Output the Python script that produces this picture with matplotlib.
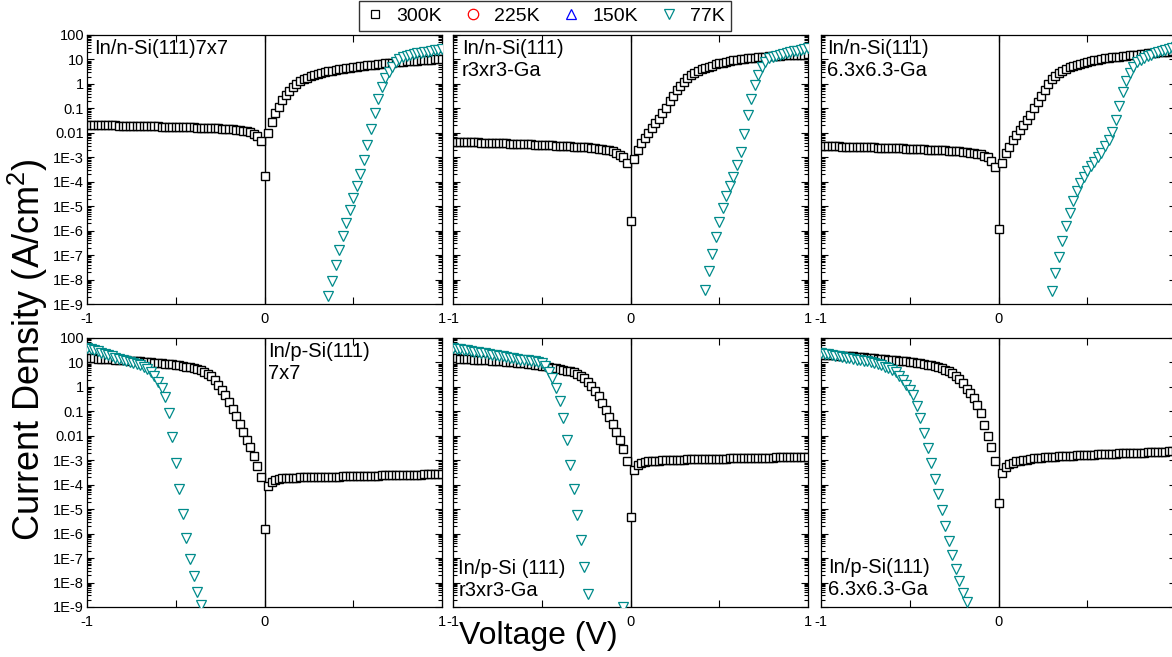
import numpy as np
import matplotlib
matplotlib.use("Agg")
import matplotlib.pyplot as plt
from matplotlib.lines import Line2D
from matplotlib.ticker import FixedLocator, FixedFormatter, LogLocator, NullFormatter

plt.rcParams["font.family"] = ["Liberation Sans", "DejaVu Sans"]
plt.rcParams["mathtext.fontset"] = "custom"
plt.rcParams["mathtext.rm"] = "Liberation Sans"
plt.rcParams["axes.unicode_minus"] = False

# bias sweep, -1 V to +1 V in 20 mV steps
volts = np.round(np.linspace(-1.0, 1.0, 101), 2)

# log10 of current density (A/cm^2), 300K, one value per sweep point
n_7x7_300 = [
    -1.68, -1.68, -1.68, -1.69, -1.69, -1.69, -1.70, -1.70, -1.70, -1.71,
    -1.71, -1.71, -1.72, -1.72, -1.72, -1.73, -1.73, -1.73, -1.74, -1.74,
    -1.74, -1.75, -1.75, -1.75, -1.76, -1.76, -1.76, -1.77, -1.77, -1.78,
    -1.78, -1.79, -1.79, -1.80, -1.80, -1.81, -1.82, -1.82, -1.83, -1.84,
    -1.85, -1.86, -1.87, -1.89, -1.91, -1.93, -1.97, -2.03, -2.15, -2.33,
    -3.76,
    -2.01, -1.55, -1.21, -0.93, -0.67, -0.45, -0.27, -0.11, 0.01, 0.12,
    0.19, 0.25, 0.31, 0.36, 0.41, 0.44, 0.48, 0.51, 0.54, 0.57,
    0.59, 0.62, 0.64, 0.66, 0.69, 0.70, 0.72, 0.74, 0.76, 0.78,
    0.79, 0.81, 0.82, 0.84, 0.86, 0.87, 0.88, 0.89, 0.91, 0.92,
    0.93, 0.94, 0.95, 0.96, 0.97, 0.98, 0.99, 1.00, 1.00, 1.01,
]
n_r3_300 = [
    -2.36, -2.36, -2.37, -2.37, -2.38, -2.38, -2.39, -2.39, -2.40, -2.40,
    -2.41, -2.41, -2.42, -2.42, -2.43, -2.43, -2.44, -2.44, -2.45, -2.45,
    -2.46, -2.46, -2.47, -2.48, -2.48, -2.49, -2.50, -2.50, -2.51, -2.52,
    -2.53, -2.54, -2.54, -2.55, -2.56, -2.57, -2.58, -2.59, -2.60, -2.62,
    -2.63, -2.65, -2.67, -2.69, -2.72, -2.76, -2.81, -2.90, -3.00, -3.24,
    -5.62,
    -3.08, -2.70, -2.42, -2.22, -2.02, -1.81, -1.61, -1.43, -1.20, -0.97,
    -0.70, -0.48, -0.25, -0.08, 0.09, 0.23, 0.37, 0.46, 0.54, 0.61,
    0.66, 0.71, 0.75, 0.80, 0.84, 0.87, 0.90, 0.93, 0.96, 0.98,
    1.00, 1.02, 1.04, 1.06, 1.07, 1.09, 1.10, 1.11, 1.13, 1.14,
    1.15, 1.16, 1.17, 1.17, 1.18, 1.19, 1.19, 1.20, 1.20, 1.21,
]
n_63_300 = [
    -2.53, -2.53, -2.54, -2.54, -2.55, -2.55, -2.56, -2.56, -2.57, -2.57,
    -2.58, -2.58, -2.59, -2.59, -2.60, -2.60, -2.61, -2.61, -2.62, -2.62,
    -2.63, -2.63, -2.64, -2.64, -2.65, -2.65, -2.66, -2.67, -2.67, -2.68,
    -2.69, -2.69, -2.70, -2.71, -2.72, -2.72, -2.73, -2.74, -2.75, -2.76,
    -2.78, -2.79, -2.81, -2.83, -2.85, -2.88, -2.93, -3.00, -3.15, -3.38,
    -5.95,
    -3.25, -2.84, -2.57, -2.29, -2.09, -1.89, -1.68, -1.48, -1.27, -1.00,
    -0.73, -0.49, -0.25, 0.00, 0.19, 0.32, 0.43, 0.54, 0.62, 0.70,
    0.75, 0.79, 0.83, 0.87, 0.90, 0.93, 0.96, 0.99, 1.01, 1.04,
    1.06, 1.08, 1.10, 1.12, 1.14, 1.16, 1.17, 1.19, 1.20, 1.22,
    1.23, 1.25, 1.26, 1.27, 1.29, 1.30, 1.31, 1.32, 1.34, 1.35,
]
p_7x7_300 = [
    1.18, 1.17, 1.17, 1.16, 1.15, 1.14, 1.14, 1.13, 1.12, 1.11,
    1.09, 1.08, 1.07, 1.07, 1.06, 1.04, 1.03, 1.02, 1.01, 0.99,
    0.98, 0.97, 0.95, 0.94, 0.92, 0.90, 0.88, 0.86, 0.83, 0.80,
    0.77, 0.74, 0.68, 0.62, 0.54, 0.43, 0.27, 0.09, -0.12, -0.35,
    -0.60, -0.90, -1.18, -1.51, -1.83, -2.17, -2.47, -2.82, -3.22, -3.70,
    -5.83,
    -4.05, -3.87, -3.81, -3.76, -3.74, -3.73, -3.72, -3.71, -3.71, -3.70,
    -3.70, -3.70, -3.69, -3.69, -3.69, -3.68, -3.68, -3.68, -3.67, -3.67,
    -3.67, -3.66, -3.66, -3.66, -3.65, -3.65, -3.65, -3.64, -3.64, -3.63,
    -3.63, -3.63, -3.62, -3.62, -3.62, -3.61, -3.61, -3.61, -3.60, -3.60,
    -3.60, -3.59, -3.59, -3.59, -3.58, -3.58, -3.57, -3.57, -3.56, -3.56,
]
p_r3_300 = [
    1.18, 1.17, 1.16, 1.15, 1.14, 1.13, 1.12, 1.11, 1.10, 1.09,
    1.08, 1.07, 1.06, 1.06, 1.05, 1.03, 1.02, 1.00, 0.99, 0.97,
    0.96, 0.94, 0.93, 0.91, 0.90, 0.86, 0.84, 0.82, 0.79, 0.76,
    0.72, 0.70, 0.67, 0.64, 0.60, 0.53, 0.46, 0.36, 0.22, 0.05,
    -0.16, -0.36, -0.64, -0.94, -1.24, -1.51, -1.83, -2.17, -2.55, -3.05,
    -5.31,
    -3.40, -3.19, -3.12, -3.08, -3.05, -3.04, -3.02, -3.01, -3.00, -2.99,
    -2.99, -2.98, -2.98, -2.97, -2.97, -2.96, -2.96, -2.96, -2.95, -2.95,
    -2.95, -2.94, -2.94, -2.94, -2.93, -2.93, -2.93, -2.92, -2.92, -2.92,
    -2.91, -2.91, -2.91, -2.90, -2.90, -2.90, -2.89, -2.89, -2.89, -2.89,
    -2.88, -2.88, -2.88, -2.88, -2.87, -2.87, -2.87, -2.86, -2.86, -2.86,
]
p_63_300 = [
    1.32, 1.32, 1.31, 1.30, 1.30, 1.28, 1.28, 1.27, 1.26, 1.25,
    1.23, 1.22, 1.21, 1.20, 1.18, 1.17, 1.16, 1.14, 1.13, 1.11,
    1.10, 1.08, 1.07, 1.05, 1.04, 1.02, 1.00, 0.98, 0.96, 0.93,
    0.90, 0.88, 0.85, 0.81, 0.76, 0.70, 0.64, 0.56, 0.46, 0.33,
    0.16, -0.08, -0.25, -0.46, -0.73, -1.05, -1.55, -2.00, -2.47, -3.03,
    -4.73,
    -3.51, -3.26, -3.15, -3.10, -3.05, -3.02, -2.99, -2.97, -2.94, -2.92,
    -2.91, -2.89, -2.88, -2.87, -2.86, -2.85, -2.84, -2.83, -2.83, -2.82,
    -2.81, -2.80, -2.80, -2.79, -2.78, -2.78, -2.77, -2.76, -2.75, -2.74,
    -2.74, -2.73, -2.73, -2.72, -2.72, -2.71, -2.71, -2.70, -2.70, -2.69,
    -2.69, -2.68, -2.68, -2.67, -2.66, -2.66, -2.65, -2.64, -2.64, -2.63,
]

# 77K: only the part of the sweep above 1E-9 A/cm^2, starting at *_v0
n_7x7_77_v0 = 0.36
n_7x7_77 = [
    -8.69, -8.05, -7.39, -6.81, -6.20, -5.67, -5.15, -4.67, -4.18, -3.69,
    -3.12, -2.49, -1.84, -1.19, -0.61, -0.12, 0.23, 0.50, 0.71, 0.88,
    1.00, 1.09, 1.14, 1.18, 1.22, 1.25, 1.28, 1.30, 1.32, 1.34,
    1.37, 1.40, 1.44,
]
n_r3_77_v0 = 0.42
n_r3_77 = [
    -8.44, -7.67, -6.96, -6.28, -5.65, -5.08, -4.60, -4.19, -3.79, -3.31,
    -2.79, -2.06, -1.29, -0.61, -0.04, 0.37, 0.71, 0.91, 1.05, 1.10,
    1.14, 1.18, 1.22, 1.26, 1.30, 1.33, 1.36, 1.39, 1.42, 1.46,
]
n_63_77_v0 = 0.30
n_63_77 = [
    -8.46, -7.75, -7.07, -6.41, -5.81, -5.27, -4.78, -4.37, -4.04, -3.80,
    -3.55, -3.36, -3.18, -3.00, -2.81, -2.54, -2.29, -1.95, -1.48, -0.90,
    -0.33, 0.13, 0.46, 0.70, 0.88, 0.98, 1.06, 1.13, 1.19, 1.25,
    1.30, 1.35, 1.40, 1.44, 1.48, 1.52,
]
p_7x7_77_v0 = -1.00
p_7x7_77 = [
    1.60, 1.55, 1.50, 1.45, 1.40, 1.35, 1.30, 1.25, 1.20, 1.15,
    1.10, 1.06, 1.02, 0.98, 0.94, 0.89, 0.82, 0.73, 0.59, 0.43,
    0.22, -0.05, -0.43, -1.07, -2.03, -3.10, -4.19, -5.21, -6.17, -7.02,
    -7.73, -8.38, -8.93,
]
p_r3_77_v0 = -1.00
p_r3_77 = [
    1.58, 1.56, 1.53, 1.51, 1.49, 1.47, 1.44, 1.42, 1.40, 1.37,
    1.35, 1.32, 1.30, 1.27, 1.25, 1.22, 1.20, 1.17, 1.15, 1.12,
    1.10, 1.08, 1.06, 1.04, 1.01, 0.98, 0.84, 0.63, 0.36, -0.05,
    -0.57, -1.28, -2.17, -3.19, -4.19, -5.24, -6.27, -7.36, -8.45,
    np.nan, np.nan, np.nan, np.nan, np.nan, np.nan, np.nan, np.nan, np.nan,
    -9.00,
]
p_63_77_v0 = -1.00
p_63_77 = [
    1.39, 1.36, 1.34, 1.31, 1.28, 1.25, 1.22, 1.20, 1.17, 1.14,
    1.11, 1.08, 1.06, 1.04, 1.01, 0.98, 0.93, 0.88, 0.82, 0.76,
    0.70, 0.59, 0.46, 0.29, 0.09, -0.12, -0.32, -0.77, -1.28, -1.89,
    -2.51, -3.12, -3.77, -4.39, -5.04, -5.69, -6.29, -6.88, -7.43, -7.93,
    -8.41, -8.79,
]

temps = ["300K", "225K", "150K", "77K"]
temp_markers = ["s", "o", "^", "v"]
temp_colors = ["black", "red", "blue", "#008b8b"]

ytick_vals = [1e-9, 1e-8, 1e-7, 1e-6, 1e-5, 1e-4, 1e-3, 1e-2, 1e-1, 1, 10, 100]
ytick_text = ["1E-9", "1E-8", "1E-7", "1E-6", "1E-5", "1E-4", "1E-3",
              "0.01", "0.1", "1", "10", "100"]

# (row, col, 300K data, 77K start, 77K data, label, label x, label y, va)
panels = [
    (0, 0, n_7x7_300, n_7x7_77_v0, n_7x7_77, "In/n-Si(111)7x7", 0.02, 0.985, "top"),
    (0, 1, n_r3_300, n_r3_77_v0, n_r3_77, "In/n-Si(111)\nr3xr3-Ga", 0.025, 0.985, "top"),
    (0, 2, n_63_300, n_63_77_v0, n_63_77, "In/n-Si(111)\n6.3x6.3-Ga", 0.018, 0.985, "top"),
    (1, 0, p_7x7_300, p_7x7_77_v0, p_7x7_77, "In/p-Si(111)\n7x7", 0.51, 0.985, "top"),
    (1, 1, p_r3_300, p_r3_77_v0, p_r3_77, "In/p-Si (111)\nr3xr3-Ga", 0.015, 0.025, "bottom"),
    (1, 2, p_63_300, p_63_77_v0, p_63_77, "In/p-Si(111)\n6.3x6.3-Ga", 0.02, 0.03, "bottom"),
]

fig = plt.figure(figsize=(11.72, 6.57), dpi=100)

# the right-hand column runs past the figure edge
col_x = [87 / 1172, 453 / 1172, 821 / 1172]
row_y = [1 - 304 / 657, 1 - 607 / 657]
ax_w, ax_h = 355 / 1172, 269 / 657

for row, col, j300, v0_77, j77, label, lx, ly, va in panels:
    ax = fig.add_axes([col_x[col], row_y[row], ax_w, ax_h])
    ax.set_yscale("log")
    ax.set_xlim(-1, 1)
    ax.set_ylim(1e-9, 100)

    ax.axvline(0, color="black", lw=1.0, zorder=1)

    ax.plot(volts, 10 ** np.array(j300), ls="none", marker="s", ms=5.8,
            mfc="white", mec="black", mew=1.0, zorder=2)
    v77 = np.round(v0_77 + 0.02 * np.arange(len(j77)), 2)
    ax.plot(v77, 10 ** np.array(j77), ls="none", marker="v", ms=7,
            mfc="white", mec=temp_colors[3], mew=0.9, zorder=3)

    ax.text(lx, ly, label, transform=ax.transAxes, ha="left", va=va,
            fontsize=14.5, linespacing=1.2)

    xlabels = ["-1", "", "0", "", "1" if col < 2 else ""]
    ax.xaxis.set_major_locator(FixedLocator([-1, -0.5, 0, 0.5, 1]))
    ax.xaxis.set_major_formatter(FixedFormatter(xlabels))
    ax.yaxis.set_major_locator(FixedLocator(ytick_vals))
    ax.yaxis.set_minor_locator(LogLocator(base=10, subs=np.arange(2, 10), numticks=30))
    ax.yaxis.set_minor_formatter(NullFormatter())
    if col == 0:
        ax.yaxis.set_major_formatter(FixedFormatter(ytick_text))
    else:
        ax.yaxis.set_major_formatter(NullFormatter())

    ax.tick_params(axis="both", which="both", direction="in", top=True, right=True,
                   labelsize=10.5, width=0.8)
    ax.tick_params(axis="both", which="major", length=5)
    ax.tick_params(axis="y", which="minor", length=3)
    ax.tick_params(axis="y", pad=2)
    ax.tick_params(axis="x", pad=6)
    for s in ax.spines.values():
        s.set_linewidth(0.9)

handles = [
    Line2D([], [], ls="none", marker=m, ms=(5.5 if m == "s" else 7.5), mfc="white",
           mec=c, mew=0.9)
    for m, c in zip(temp_markers, temp_colors)
]
fig.legend(handles, temps, loc="upper center", bbox_to_anchor=(0.465, 0.998), ncol=4,
           fontsize=14, frameon=True, fancybox=False, edgecolor="black",
           borderpad=0.3, handlelength=1.0, handletextpad=0.6, columnspacing=1.1,
           borderaxespad=0.0)

fig.text(0.024, 0.468, "Current Density (A/cm$^2$)", rotation=90,
         ha="center", va="center", fontsize=26)
fig.text(0.459, 0.032, "Voltage (V)", ha="center", va="center", fontsize=23)

fig.savefig("out.png", dpi=100)
